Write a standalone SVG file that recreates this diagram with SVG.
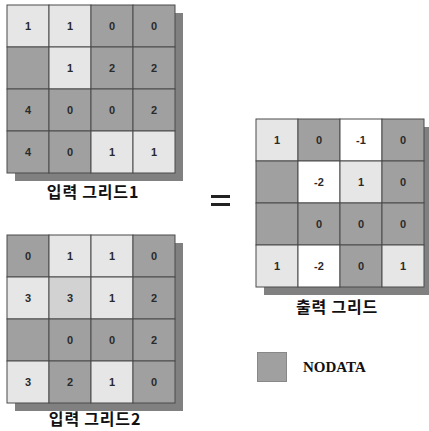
<svg xmlns="http://www.w3.org/2000/svg" width="429" height="431" viewBox="0 0 429 431">
<style>
.L{fill:#e6e6e6}.D{fill:#a0a0a0}.M{fill:#d2d2d2}.W{fill:#ffffff}
.cell{stroke:#4a4a4a;stroke-width:1}
.sh{fill:#808080}
.n{font-family:"Liberation Sans",Arial,sans-serif;font-weight:bold;font-size:11px;fill:#2a2a2a;text-anchor:middle}
.lab{font-family:"Noto Sans CJK KR","Noto Sans",sans-serif;font-weight:bold;font-size:16px;letter-spacing:0.8px;fill:#111;text-anchor:middle}
.leg{font-family:"Liberation Serif","Times New Roman",serif;font-weight:bold;font-size:15px;fill:#111}
</style>
<rect width="429" height="431" fill="#fff"/>
<g id="grid1">
<rect class="sh" x="15" y="13" width="168" height="168"/>
<g class="cell">
<rect class="L" x="7" y="5" width="42" height="42"/><rect class="L" x="49" y="5" width="42" height="42"/><rect class="D" x="91" y="5" width="42" height="42"/><rect class="D" x="133" y="5" width="42" height="42"/>
<rect class="D" x="7" y="47" width="42" height="42"/><rect class="L" x="49" y="47" width="42" height="42"/><rect class="D" x="91" y="47" width="42" height="42"/><rect class="D" x="133" y="47" width="42" height="42"/>
<rect class="D" x="7" y="89" width="42" height="42"/><rect class="D" x="49" y="89" width="42" height="42"/><rect class="D" x="91" y="89" width="42" height="42"/><rect class="D" x="133" y="89" width="42" height="42"/>
<rect class="D" x="7" y="131" width="42" height="42"/><rect class="D" x="49" y="131" width="42" height="42"/><rect class="L" x="91" y="131" width="42" height="42"/><rect class="L" x="133" y="131" width="42" height="42"/>
</g>
<text class="n" x="28" y="30">1</text><text class="n" x="70" y="30">1</text><text class="n" x="112" y="30">0</text><text class="n" x="154" y="30">0</text>
<text class="n" x="70" y="72">1</text><text class="n" x="112" y="72">2</text><text class="n" x="154" y="72">2</text>
<text class="n" x="28" y="114">4</text><text class="n" x="70" y="114">0</text><text class="n" x="112" y="114">0</text><text class="n" x="154" y="114">2</text>
<text class="n" x="28" y="156">4</text><text class="n" x="70" y="156">0</text><text class="n" x="112" y="156">1</text><text class="n" x="154" y="156">1</text>
<text class="lab" x="93" y="198">입력 그리드1</text>
</g>
<g id="grid2">
<rect class="sh" x="15" y="243" width="168" height="168"/>
<g class="cell">
<rect class="D" x="7" y="235" width="42" height="42"/><rect class="L" x="49" y="235" width="42" height="42"/><rect class="L" x="91" y="235" width="42" height="42"/><rect class="D" x="133" y="235" width="42" height="42"/>
<rect class="L" x="7" y="277" width="42" height="42"/><rect class="M" x="49" y="277" width="42" height="42"/><rect class="L" x="91" y="277" width="42" height="42"/><rect class="D" x="133" y="277" width="42" height="42"/>
<rect class="D" x="7" y="319" width="42" height="42"/><rect class="D" x="49" y="319" width="42" height="42"/><rect class="D" x="91" y="319" width="42" height="42"/><rect class="D" x="133" y="319" width="42" height="42"/>
<rect class="L" x="7" y="361" width="42" height="42"/><rect class="D" x="49" y="361" width="42" height="42"/><rect class="L" x="91" y="361" width="42" height="42"/><rect class="D" x="133" y="361" width="42" height="42"/>
</g>
<text class="n" x="28" y="260">0</text><text class="n" x="70" y="260">1</text><text class="n" x="112" y="260">1</text><text class="n" x="154" y="260">0</text>
<text class="n" x="28" y="302">3</text><text class="n" x="70" y="302">3</text><text class="n" x="112" y="302">1</text><text class="n" x="154" y="302">2</text>
<text class="n" x="70" y="344">0</text><text class="n" x="112" y="344">0</text><text class="n" x="154" y="344">2</text>
<text class="n" x="28" y="386">3</text><text class="n" x="70" y="386">2</text><text class="n" x="112" y="386">1</text><text class="n" x="154" y="386">0</text>
<text class="lab" x="95" y="425">입력 그리드2</text>
</g>
<g id="equals">
<rect x="211" y="195" width="19" height="3" fill="#222"/>
<rect x="211" y="203" width="19" height="3" fill="#222"/>
</g>
<g id="output">
<rect class="sh" x="264" y="127" width="168" height="168"/>
<g class="cell">
<rect class="L" x="256" y="119" width="42" height="42"/><rect class="D" x="298" y="119" width="42" height="42"/><rect class="W" x="340" y="119" width="42" height="42"/><rect class="D" x="382" y="119" width="42" height="42"/>
<rect class="D" x="256" y="161" width="42" height="42"/><rect class="W" x="298" y="161" width="42" height="42"/><rect class="L" x="340" y="161" width="42" height="42"/><rect class="D" x="382" y="161" width="42" height="42"/>
<rect class="D" x="256" y="203" width="42" height="42"/><rect class="D" x="298" y="203" width="42" height="42"/><rect class="D" x="340" y="203" width="42" height="42"/><rect class="D" x="382" y="203" width="42" height="42"/>
<rect class="L" x="256" y="245" width="42" height="42"/><rect class="W" x="298" y="245" width="42" height="42"/><rect class="D" x="340" y="245" width="42" height="42"/><rect class="L" x="382" y="245" width="42" height="42"/>
</g>
<text class="n" x="277" y="144">1</text><text class="n" x="319" y="144">0</text><text class="n" x="361" y="144">-1</text><text class="n" x="403" y="144">0</text>
<text class="n" x="319" y="186">-2</text><text class="n" x="361" y="186">1</text><text class="n" x="403" y="186">0</text>
<text class="n" x="319" y="228">0</text><text class="n" x="361" y="228">0</text><text class="n" x="403" y="228">0</text>
<text class="n" x="277" y="270">1</text><text class="n" x="319" y="270">-2</text><text class="n" x="361" y="270">0</text><text class="n" x="403" y="270">1</text>
<text class="lab" x="337" y="313">출력 그리드</text>
</g>
<g id="legend">
<rect x="257.5" y="352.5" width="29" height="29" fill="#a0a0a0" stroke="#888" stroke-width="1"/>
<text class="leg" x="303" y="372">NODATA</text>
</g>
</svg>
